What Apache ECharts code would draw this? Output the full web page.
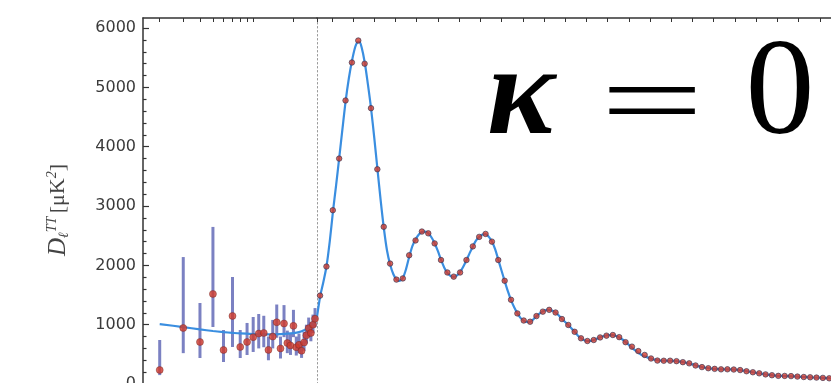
<!DOCTYPE html>
<html>
<head>
<meta charset="utf-8">
<script src="https://cdn.jsdelivr.net/npm/echarts@6/dist/echarts.min.js"></script>
<style>
  html, body { margin: 0; padding: 0; background: #fff; }
  #chart { width: 831px; height: 383px; }
</style>
</head>
<body>
<div id="chart"></div>
<script>
// Low multipoles (l = 2..29): band powers with asymmetric error bars, µK^2
const lowL  = [2, 3, 4, 5, 6, 7, 8, 9, 10, 11, 12, 13, 14, 15, 16, 17, 18, 19, 20, 21, 22, 23, 24, 25, 26, 27, 28, 29];
const lowD  = [236, 944, 708, 1518, 573, 1147, 624, 708, 790, 850, 860, 575, 800, 1040, 600, 1020, 690, 650, 980, 620, 660, 560, 700, 820, 940, 860, 1000, 1100];
const lowLo = [150, 520, 438, 961, 371, 624, 438, 489, 540, 600, 620, 400, 600, 780, 430, 790, 520, 490, 790, 480, 520, 440, 560, 680, 790, 720, 860, 960];
const lowHi = [742, 2140, 1366, 2648, 910, 1804, 910, 1029, 1130, 1180, 1150, 800, 1080, 1340, 800, 1330, 900, 850, 1250, 800, 850, 720, 880, 1000, 1120, 1040, 1170, 1280];

// High multipoles: binned band powers (bin width 30)
const binL = [44.5, 74.5, 104.5, 134.5, 164.5, 194.5, 224.5, 254.5, 284.5, 314.5,
  344.5, 374.5, 404.5, 434.5, 464.5, 494.5, 524.5, 554.5, 584.5, 614.5,
  644.5, 674.5, 704.5, 734.5, 764.5, 794.5, 824.5, 854.5, 884.5, 914.5,
  944.5, 974.5, 1004.5, 1034.5, 1064.5, 1094.5, 1124.5, 1154.5, 1184.5, 1214.5,
  1244.5, 1274.5, 1304.5, 1334.5, 1364.5, 1394.5, 1424.5, 1454.5, 1484.5, 1514.5,
  1544.5, 1574.5, 1604.5, 1634.5, 1664.5, 1694.5, 1724.5, 1754.5, 1784.5, 1814.5,
  1844.5, 1874.5, 1904.5, 1934.5, 1964.5, 1994.5, 2024.5, 2054.5, 2084.5, 2114.5,
  2144.5, 2174.5, 2204.5, 2234.5, 2264.5, 2294.5, 2324.5, 2354.5, 2384.5, 2414.5,
  2444.5, 2474.5];
const binD = [1490, 1980, 2930, 3800, 4780, 5420, 5790, 5400, 4650, 3620,
  2650, 2030, 1760, 1780, 2170, 2420, 2570, 2540, 2370, 2090,
  1880, 1810, 1880, 2090, 2320, 2480, 2530, 2400, 2090, 1740,
  1420, 1190, 1070, 1050, 1145, 1220, 1250, 1205, 1095, 995,
  880, 770, 725, 742, 785, 815, 826, 790, 705, 630,
  555, 490, 430, 395, 392, 393, 385, 368, 348, 312,
  285, 266, 255, 247, 248, 244, 235, 215, 198, 180,
  162, 148, 137, 136, 133, 125, 118, 113, 108, 103,
  96, 92];

// Best-fit model spectrum, low-l part (log axis) and high-l part (linear axis)
const modelLowL = [2, 3, 4, 5, 6, 7, 8, 10, 12, 14, 16, 18, 20, 22, 24, 26, 28, 30];
const modelLowD = [1010, 960, 920, 893, 875, 862, 852, 842, 838, 838, 842, 848, 858, 875, 905, 950, 1020, 1130];
const modelHighL = [30, 45, 60, 75, 90, 105, 120, 135, 150, 165, 180, 195, 210, 220, 230, 240, 255, 270, 285, 300,
  315, 330, 345, 360, 375, 390, 405, 420, 435, 450, 465, 480, 495, 510, 525, 540, 555, 570, 585, 600,
  615, 630, 645, 660, 675, 690, 705, 720, 735, 750, 765, 780, 795, 810, 825, 840, 855, 870, 885, 900,
  915, 930, 945, 960, 975, 990, 1005, 1020, 1035, 1050, 1065, 1080, 1095, 1110, 1125, 1140, 1155, 1170, 1185, 1200,
  1215, 1230, 1245, 1260, 1275, 1290, 1305, 1320, 1335, 1350, 1365, 1380, 1395, 1410, 1425, 1440, 1455, 1470, 1485, 1500,
  1530, 1560, 1590, 1620, 1650, 1680, 1710, 1740, 1770, 1800, 1830, 1860, 1890, 1920, 1950, 1980, 2010, 2040, 2070, 2100,
  2130, 2160, 2190, 2220, 2250, 2280, 2310, 2340, 2370, 2400, 2430, 2460, 2500];
const modelHighD = [1130, 1480, 1720, 1990, 2400, 2900, 3350, 3820, 4300, 4770, 5150, 5450, 5680, 5760, 5770, 5680, 5420, 5050, 4640, 4150,
  3620, 3100, 2630, 2250, 2010, 1850, 1760, 1740, 1790, 1940, 2150, 2330, 2440, 2520, 2565, 2570, 2540, 2470, 2370, 2240,
  2090, 1960, 1870, 1820, 1805, 1830, 1890, 1980, 2090, 2210, 2320, 2420, 2480, 2520, 2525, 2480, 2400, 2270, 2090, 1910,
  1730, 1560, 1410, 1290, 1190, 1110, 1065, 1045, 1050, 1090, 1145, 1190, 1225, 1245, 1250, 1235, 1205, 1155, 1095, 1045,
  990, 935, 878, 815, 768, 738, 725, 728, 742, 765, 788, 806, 818, 825, 824, 808, 785, 750, 706, 660,
  565, 490, 445, 410, 395, 392, 390, 378, 358, 330, 298, 274, 260, 250, 247, 246, 240, 225, 207, 188,
  170, 155, 142, 136, 134, 129, 121, 115, 110, 106, 100, 95, 89];

// Axis tick positions and labels
const yTickLabels = [0, 1000, 2000, 3000, 4000, 5000, 6000];
const logTicks = [2, 3, 4, 5, 6, 7, 8, 9, 10, 20, 30];
const linTicks = [];
for (let t = 100; t <= 2500; t += 100) linTicks.push(t);
const yMinorTicks = [];
for (let t = 200; t <= 6000; t += 200) if (t % 1000 !== 0) yMinorTicks.push(t);

const Y_MAX = 6170;
const axisColor = '#333';
const lineBlue = '#3a8ee0';
const dotRed = '#d23a2a';

const chart = echarts.init(document.getElementById('chart'), null, { renderer: 'canvas' });

const pair = (xs, ys) => xs.map((x, i) => [x, ys[i]]);

const option = {
  backgroundColor: '#fff',
  animation: false,
  grid: [
    { left: 143, top: 18, width: 174, height: 366, outerBoundsMode: 'none', containLabel: false },
    { left: 317, top: 18, width: 524, height: 366, outerBoundsMode: 'none', containLabel: false }
  ],
  xAxis: [
    {
      gridIndex: 0, type: 'log', min: 1.5, max: 30, position: 'top',
      axisLine: { onZero: false, lineStyle: { color: axisColor, width: 1.5 } },
      axisTick: { inside: true, length: 4, customValues: logTicks, lineStyle: { color: axisColor } },
      axisLabel: { show: false },
      splitLine: { show: false }, minorTick: { show: false }
    },
    {
      gridIndex: 1, type: 'value', min: 30, max: 2500, position: 'top',
      axisLine: { onZero: false, lineStyle: { color: axisColor, width: 1.5 } },
      axisTick: { inside: true, length: 4, customValues: linTicks, lineStyle: { color: axisColor } },
      axisLabel: { show: false },
      splitLine: { show: false }
    }
  ],
  yAxis: [
    {
      gridIndex: 0, type: 'value', min: 0, max: Y_MAX, position: 'left',
      axisLine: { onZero: false, lineStyle: { color: axisColor, width: 1.5 } },
      axisTick: { inside: true, length: 6, customValues: yTickLabels, lineStyle: { color: axisColor, width: 1.2 } },
      axisLabel: {
        customValues: yTickLabels, margin: 7, color: '#3a3a3a',
        fontFamily: 'DejaVu Sans', fontSize: 16,
        formatter: v => String(v)
      },
      splitLine: { show: false }
    },
    {
      gridIndex: 1, type: 'value', min: 0, max: Y_MAX, position: 'left',
      axisLine: { onZero: false, lineStyle: { color: '#9a9a9a', width: 1, type: [1.5, 2.5] } },
      axisTick: { show: false }, axisLabel: { show: false }, splitLine: { show: false }
    },
    {
      gridIndex: 0, type: 'value', min: 0, max: Y_MAX, position: 'left',
      axisLine: { show: false },
      axisTick: { inside: true, length: 3.5, customValues: yMinorTicks, lineStyle: { color: axisColor, width: 1.2 } },
      axisLabel: { show: false }, splitLine: { show: false }
    }
  ],
  series: [
    {
      name: 'low-l error', type: 'custom', xAxisIndex: 0, yAxisIndex: 0,
      data: lowL.map((l, i) => [l, lowLo[i], lowHi[i]]),
      encode: { x: 0, y: [1, 2] },
      renderItem: (params, api) => {
        const a = api.coord([api.value(0), api.value(1)]);
        const b = api.coord([api.value(0), api.value(2)]);
        return {
          type: 'line',
          shape: { x1: a[0], y1: a[1], x2: b[0], y2: b[1] },
          style: { stroke: 'rgba(72,80,170,0.72)', lineWidth: 3 }
        };
      },
      z: 2
    },
    {
      name: 'model low', type: 'line', xAxisIndex: 0, yAxisIndex: 0,
      data: pair(modelLowL, modelLowD), smooth: 0.3, showSymbol: false,
      lineStyle: { color: lineBlue, width: 2.2 }, z: 3
    },
    {
      name: 'low-l', type: 'scatter', xAxisIndex: 0, yAxisIndex: 0,
      data: pair(lowL, lowD), symbolSize: 7,
      itemStyle: { color: dotRed, borderColor: 'rgba(110,40,40,0.7)', borderWidth: 0.8 }, z: 4
    },
    {
      name: 'model high', type: 'line', xAxisIndex: 1, yAxisIndex: 1,
      data: pair(modelHighL, modelHighD), smooth: 0.3, showSymbol: false,
      lineStyle: { color: lineBlue, width: 2.2 }, z: 3
    },
    {
      name: 'high-l', type: 'scatter', xAxisIndex: 1, yAxisIndex: 1,
      data: pair(binL, binD), symbolSize: 5.5,
      itemStyle: { color: dotRed, borderColor: 'rgba(60,55,85,0.85)', borderWidth: 1 }, z: 4
    }
  ],
  graphic: [
    {
      type: 'text', x: 58, y: 210, rotation: Math.PI / 2,
      style: {
        text: '{d|D}{l|ℓ}{s|TT} {n|[μK}{s|2}{n|]}',
        align: 'center', verticalAlign: 'middle',
        rich: {
          d: { fontFamily: 'Liberation Serif', fontStyle: 'italic', fontSize: 25, fill: '#444' },
          l: { fontFamily: 'Liberation Serif', fontStyle: 'italic', fontSize: 14, fill: '#444', padding: [13, 0, 0, 0] },
          s: { fontFamily: 'Liberation Serif', fontStyle: 'italic', fontSize: 14, fill: '#444', padding: [0, 0, 12, 0] },
          n: { fontFamily: 'Liberation Serif', fontSize: 22, fill: '#444' }
        }
      }
    },
    {
      type: 'text', x: 521, y: 100,
      style: {
        text: 'κ', align: 'center', verticalAlign: 'middle', fill: '#000',
        font: 'italic bold 128px "Liberation Serif"'
      }
    },
    {
      type: 'text', x: 652, y: 108, scaleX: 1.7,
      style: {
        text: '=', align: 'center', verticalAlign: 'middle', fill: '#000',
        font: '108px "Liberation Serif"'
      }
    },
    {
      type: 'text', x: 780, y: 97,
      style: {
        text: '0', align: 'center', verticalAlign: 'middle', fill: '#000',
        font: '138px "Liberation Serif"'
      }
    }
  ]
};

chart.setOption(option);
</script>
</body>
</html>
